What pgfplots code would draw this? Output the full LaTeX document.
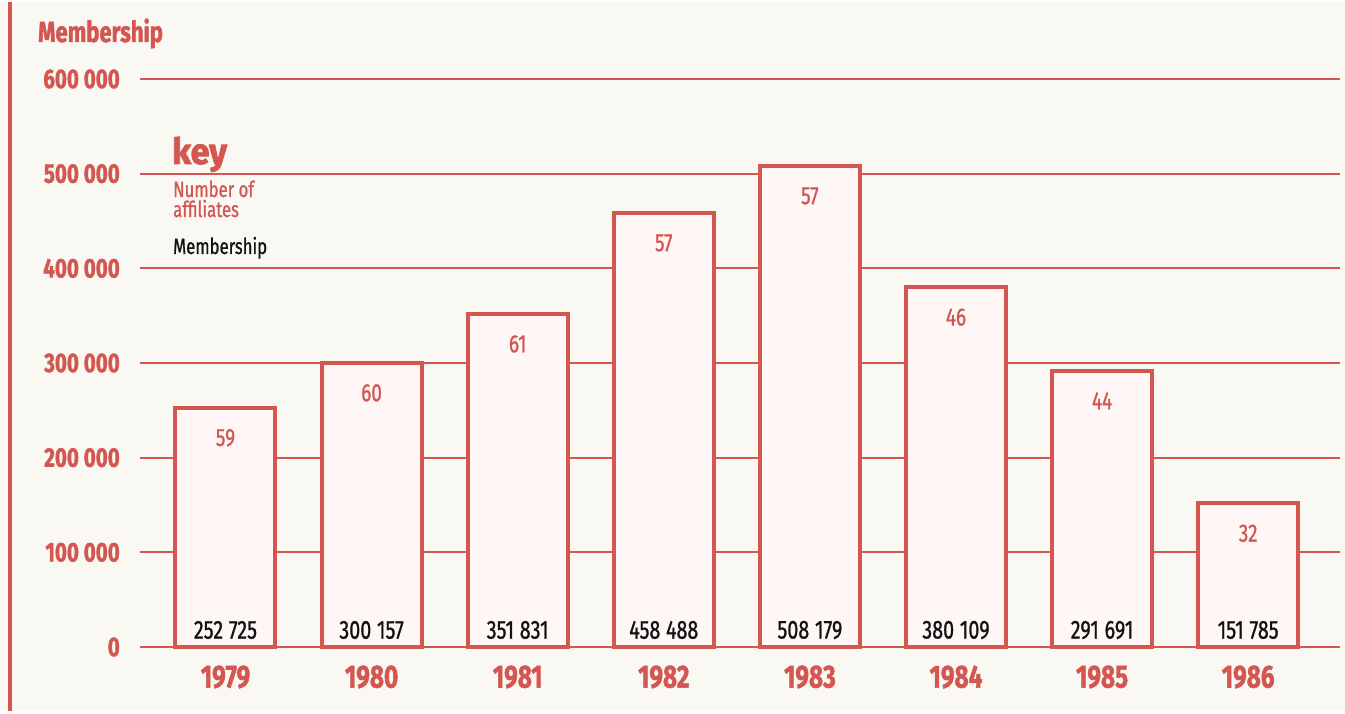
\documentclass[border=0pt]{standalone}
\usepackage{pgfplots}
\usepackage{pgfplotstable}
\pgfplotsset{compat=1.18}
\usepackage{fontspec}
\setmainfont{Fira Sans}[FakeStretch=0.78]
\newfontfamily\heavy{Fira Sans}[FakeStretch=0.76, BoldFeatures={FakeBold=1.4}]
\newfontfamily\keyf{Fira Sans}[FakeStretch=0.95, BoldFeatures={FakeBold=2.2}]
\newfontfamily\med{Fira Sans}[FakeStretch=0.76, FakeBold=0.9]
\definecolor{cred}{RGB}{212,86,80}
\definecolor{bg}{RGB}{249,248,243}
\definecolor{barfill}{RGB}{254,247,245}
\definecolor{ink}{RGB}{17,17,17}
\newcommand\gap{\hspace{0.22em}}
\pgfplotstableread{
x y aff lab
0 252725 59 252\gap725
1 300157 60 300\gap157
2 351831 61 351\gap831
3 458488 57 458\gap488
4 508179 57 508\gap179
5 380109 46 380\gap109
6 291691 44 291\gap691
7 151785 32 151\gap785
}\datatab
\begin{document}
\begin{tikzpicture}
\fill[bg] (-140pt,-64pt) rectangle (1205pt,645pt);
\draw[cred, line width=4pt] (-130pt,-64pt) -- (-130pt,645pt);
\begin{axis}[
  at={(0pt,0pt)}, anchor=south west,
  scale only axis, width=1200pt, height=568pt,
  xmin=-0.585, xmax=7.628, ymin=0, ymax=600000,
  axis lines=none, clip=false,
  ytick=\empty, xtick=\empty,
]
\pgfplotsinvokeforeach{0,100000,200000,300000,400000,500000,600000}{
  \draw[cred, line width=2pt] (axis cs:-0.585,#1) -- (axis cs:7.628,#1);
}
\addplot[ybar, bar width=100pt, bar shift=0pt, fill=barfill, draw=cred, line width=4pt] table[x=x,y=y] {\datatab};
\addplot[draw=none, mark=none, nodes near coords, point meta=explicit symbolic,
  nodes near coords style={anchor=center, yshift=-30pt, text=cred, font=\med\fontsize{25}{28}\selectfont}]
  table[x=x, y=y, meta=aff] {\datatab};
\addplot[draw=none, mark=none, nodes near coords, point meta=explicit symbolic,
  nodes near coords style={anchor=center, yshift=17pt, text=ink, font=\med\fontsize{26}{28}\selectfont}]
  table[x=x, y expr=0, meta=lab] {\datatab};
\end{axis}
\foreach \v/\t in {0/0,1/100 000,2/200 000,3/300 000,4/400 000,5/500 000,6/600 000}{
  \node[anchor=east, inner sep=0pt, text=cred, font=\heavy\bfseries\fontsize{27}{30}\selectfont] at (-20pt,{\v*94.667pt}) {\t};
}
\foreach \i/\yr in {0/1979,1/1980,2/1981,3/1982,4/1983,5/1984,6/1985,7/1986}{
  \node[anchor=center, inner sep=0pt, text=cred, font=\heavy\bfseries\fontsize{32}{34}\selectfont] at ({85.5pt+\i*146.1pt},-30pt) {\yr};
}
\node[anchor=base west, inner sep=0pt, text=cred, font=\heavy\bfseries\fontsize{29}{31}\selectfont] at (-102pt,605pt) {Membership};
\node[anchor=base west, inner sep=0pt, text=cred, font=\keyf\bfseries\fontsize{36}{40}\selectfont] at (32pt,483pt) {key};
\node[anchor=base west, inner sep=0pt, text=cred, font=\med\fontsize{22}{24}\selectfont] at (33pt,450pt) {Number of};
\node[anchor=base west, inner sep=0pt, text=cred, font=\med\fontsize{22}{24}\selectfont] at (33pt,430pt) {affiliates};
\node[anchor=base west, inner sep=0pt, text=ink, font=\med\fontsize{22}{24}\selectfont] at (33pt,393pt) {Membership};
\end{tikzpicture}
\end{document}
